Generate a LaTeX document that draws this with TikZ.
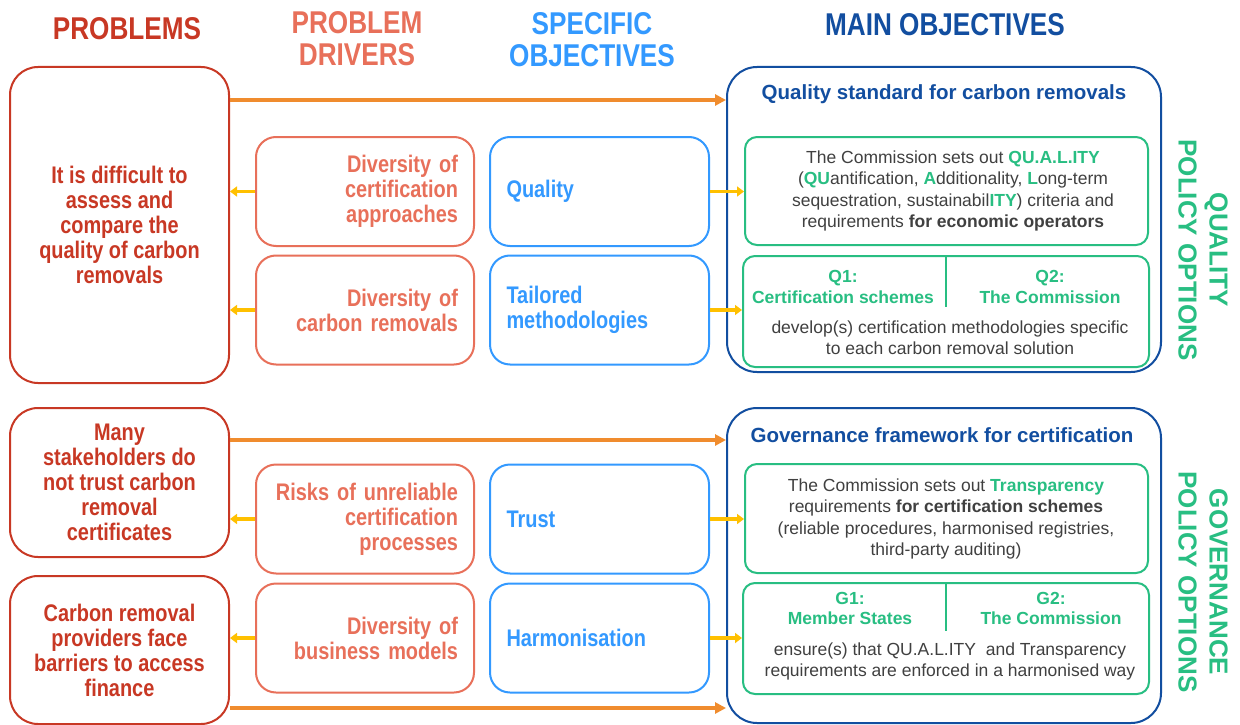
\documentclass[tikz,border=0pt]{standalone}
\usepackage{fontspec}
\setmainfont{Liberation Sans}
\newfontfamily\narrowfont[FakeStretch=0.83]{Liberation Sans}
\usetikzlibrary{arrows.meta,calc}
\definecolor{probred}{RGB}{200,56,36}
\definecolor{drvsalmon}{RGB}{232,112,90}
\definecolor{specblue}{RGB}{51,153,255}
\definecolor{mainblue}{RGB}{18,78,160}
\definecolor{optgreen}{RGB}{40,190,130}
\definecolor{arrorange}{RGB}{240,140,46}
\definecolor{arryellow}{RGB}{255,192,0}
\definecolor{bodygray}{RGB}{64,64,64}
\newcommand{\gb}[1]{{\color{optgreen}\bfseries #1}}
\tikzset{
  hdr/.style={font=\narrowfont\bfseries\fontsize{31.5}{32}\selectfont, align=center, inner sep=0pt},
  probbox/.style={draw=probred, line width=2pt, rounded corners=28pt, inner sep=0pt, text=probred,
    font=\narrowfont\bfseries\fontsize{24}{25}\selectfont, align=center},
  drvbox/.style={draw=drvsalmon, line width=2pt, rounded corners=20pt, inner sep=0pt, text=drvsalmon,
    font=\narrowfont\bfseries\fontsize{24}{25}\selectfont, align=right, text width=186pt, minimum width=218pt, minimum height=109pt},
  specbox/.style={draw=specblue, line width=2pt, rounded corners=20pt, inner sep=0pt, text=specblue,
    font=\narrowfont\bfseries\fontsize{24}{25}\selectfont, align=left, text width=186pt, minimum width=219pt, minimum height=109pt},
  mainbox/.style={draw=mainblue, line width=2pt, rounded corners=30pt, inner sep=0pt, minimum width=434pt},
  mtitle/.style={text=mainblue, font=\bfseries\fontsize{20.5}{24}\selectfont, inner sep=0pt},
  grnbox/.style={draw=optgreen, line width=2pt, rounded corners=12pt, inner sep=0pt},
  gtext/.style={text=bodygray, font=\fontsize{17.5}{21.3}\selectfont, align=center, inner sep=0pt},
  gsub/.style={text=optgreen, font=\bfseries\fontsize{17.5}{20.5}\selectfont, align=center, inner sep=0pt},
  rot/.style={text=optgreen, font=\bfseries\fontsize{26}{31}\selectfont, align=center, rotate=-90, inner sep=0pt},
  oarrow/.style={draw=arrorange, line width=3.2pt, -{Triangle[length=11pt,width=11pt]}},
  yarrow/.style={draw=arryellow, line width=3.2pt, -{Triangle[length=7pt,width=10pt]}},
}
\begin{document}
\begin{tikzpicture}[x=1pt,y=-1pt]
\useasboundingbox (0,0) rectangle (1240,725);
\fill[white] (0,0) rectangle (1240,725);
% headers
\node[hdr, text=probred] (hp) at (127,29) {PROBLEMS};
\node[hdr, text=drvsalmon] (hd) at (357,39) {PROBLEM\\DRIVERS};
\node[hdr, text=specblue] (hs) at (592,40) {SPECIFIC\\OBJECTIVES};
\node[hdr, text=mainblue] (hm) at (945,25) {MAIN OBJECTIVES};
% problems
\node[probbox, minimum width=219pt, minimum height=316pt] (p1) at (119.5,225) {It is difficult to\\assess and\\compare the\\quality of carbon\\removals};
\node[probbox, minimum width=219pt, minimum height=149pt] (p2) at (119.5,482.5) {Many\\stakeholders do\\not trust carbon\\removal\\certificates};
\node[probbox, minimum width=219pt, minimum height=148pt] (p3) at (119.5,650) {Carbon removal\\providers face\\barriers to access\\finance};
% drivers
\node[drvbox] (d1) at (365,191.5) {Diversity of\\certification\\approaches};
\node[drvbox] (d2) at (365,310) {Diversity of\\carbon removals};
\node[drvbox] (d3) at (365,519) {Risks of unreliable\\certification\\processes};
\node[drvbox] (d4) at (365,638) {Diversity of\\business models};
% specific objectives
\node[specbox] (s1) at (599.5,191.5) {Quality};
\node[specbox] (s2) at (599.5,310) {Tailored\\methodologies};
\node[specbox] (s3) at (599.5,519) {Trust};
\node[specbox] (s4) at (599.5,638) {Harmonisation};
% main boxes
\node[mainbox, minimum height=305pt] (m1) at (944,219.5) {};
\node[mainbox, minimum height=315pt] (m2) at (944,565.5) {};
\node[mtitle] (t1) at (944,94) {Quality standard for carbon removals};
\node[mtitle] (t2) at (942,435) {Governance framework for certification};
% green boxes
\node[grnbox, minimum width=403pt, minimum height=108pt] (q1) at (946.5,191) {};
\node[grnbox, minimum width=406pt, minimum height=111pt] (q2) at (946,311.5) {};
\node[grnbox, minimum width=403pt, minimum height=109pt] (g1) at (946.5,518.5) {};
\node[grnbox, minimum width=406pt, minimum height=111pt] (g2) at (946,638.5) {};
\node[gtext] (q1t) at (953,191) {The Commission sets out \gb{QU.A.L.ITY}\\(\gb{QU}antification, \gb{A}dditionality, \gb{L}ong-term\\sequestration, sustainabil\gb{ITY}) criteria and\\requirements {\bfseries for economic operators}};
\node[gsub] (q2a) at (843,287) {Q1:\\Certification schemes};
\node[gsub] (q2b) at (1050,287) {Q2:\\The Commission};
\node[gtext] (q2t) at (950,337.5) {develop(s) certification methodologies specific\\to each carbon removal solution};
\node[gtext] (g1t) at (946,519) {The Commission sets out \gb{Transparency}\\requirements {\bfseries for certification schemes}\\(reliable procedures, harmonised registries,\\third-party auditing)};
\node[gsub] (g2a) at (850,608.5) {G1:\\Member States};
\node[gsub] (g2b) at (1051,608.5) {G2:\\The Commission};
\node[gtext] (g2t) at (950,661.5) {ensure(s) that QU.A.L.ITY\ \ and Transparency\\requirements are enforced in a harmonised way};
\draw[optgreen, line width=2pt] (q2.north) -- ++(0,52);
\draw[optgreen, line width=2pt] (g2.north) -- ++(0,49);
% side labels
\node[rot] (rq) at (1203,250) {QUALITY\\POLICY OPTIONS};
\node[rot] (rg) at (1203,582) {GOVERNANCE\\POLICY OPTIONS};
% orange arrows
\coordinate (o1) at (0,100);
\coordinate (o2) at (0,440);
\coordinate (o3) at (0,708);
\draw[oarrow] (p1.east |- o1) -- (m1.west |- o1);
\draw[oarrow] (p2.east |- o2) -- (m2.west |- o2);
\draw[oarrow] (p3.east |- o3) -- (m2.west |- o3);
% yellow arrows
\draw[yarrow] (d1.west) -- (p1.east |- d1.west);
\draw[yarrow] (d2.west) -- (p1.east |- d2.west);
\draw[yarrow] (d3.west) -- (p2.east |- d3.west);
\draw[yarrow] (d4.west) -- (p3.east |- d4.west);
\draw[yarrow] (s1.east) -- (q1.west |- s1.east);
\draw[yarrow] (s2.east) -- (q2.west |- s2.east);
\draw[yarrow] (s3.east) -- (g1.west |- s3.east);
\draw[yarrow] (s4.east) -- (g2.west |- s4.east);
\end{tikzpicture}
\end{document}
